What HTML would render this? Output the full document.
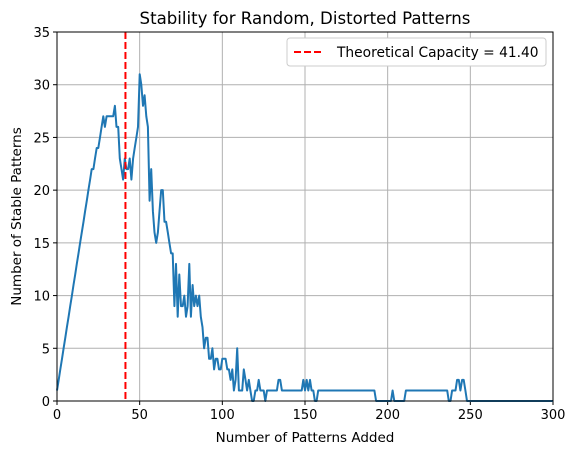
<!DOCTYPE html>
<html><head><meta charset="utf-8"><style>
body{margin:0;background:#fff;font-family:"Liberation Sans","DejaVu Sans",sans-serif}
</style></head><body>
<svg id="chart" width="576" height="455" xmlns="http://www.w3.org/2000/svg" font-family="DejaVu Sans, Liberation Sans, sans-serif"></svg>
<script>
const xValues=[0,1,2,3,4,5,6,7,8,9,10,11,12,13,14,15,16,17,18,19,20,21,22,23,24,25,26,27,28,29,30,31,32,33,34,35,36,37,38,39,40,41,42,43,44,45,46,47,48,49,50,51,52,53,54,55,56,57,58,59,60,61,62,63,64,65,66,67,68,69,70,71,72,73,74,75,76,77,78,79,80,81,82,83,84,85,86,87,88,89,90,91,92,93,94,95,96,97,98,99,100,101,102,103,104,105,106,107,108,109,110,111,112,113,114,115,116,117,118,119,120,121,122,123,124,125,126,127,128,
130,133,134,135,136,137,145,148,149,150,151,152,153,154,155,156,157,158,192,193,202,203,204,210,211,236,237,238,239,240,241,242,243,244,245,246,247,248,300];
const stableCounts=[1,2,3,4,5,6,7,8,9,10,11,12,13,14,15,16,17,18,19,20,21,22,22,23,24,24,25,26,27,26,27,27,27,27,27,28,26,26,23,22,21,23,22,22,23,21,23,24,25,26,31,30,28,29,27,26,19,22,18,16,15,16,18,20,20,17,17,16,15,14,14,9,13,8,12,9,9,10,8,9,13,8,11,9,10,9,10,8,7,5,6,6,4,4,5,3,4,4,3,3,4,4,4,3,3,2,3,1,2,5,1,1,1,3,2,1,2,1,0,0,1,1,2,1,1,1,0,1,1,
1,1,2,2,1,1,1,1,2,1,2,1,2,1,1,0,0,1,1,0,0,1,0,0,1,1,0,0,1,1,1,2,2,1,2,2,1,0,0];
const xTicks=[0,50,100,150,200,250,300];
const yTicks=[0,5,10,15,20,25,30,35];
const capacity=41.4;
const svg=document.getElementById('chart');
const NS='http://www.w3.org/2000/svg';
const L=57,R=553,T=32,B=401;
const xs=v=>L+(v/300)*(R-L);
const ys=v=>B-(v/35)*(B-T);
function mk(tag,attrs,text){const e=document.createElementNS(NS,tag);for(const k in attrs)e.setAttribute(k,attrs[k]);if(text!==undefined)e.textContent=text;svg.appendChild(e);return e;}
xTicks.forEach(t=>{
 const g=mk('line',{x1:xs(t),x2:xs(t),y1:T,y2:B,stroke:'#b0b0b0','stroke-width':1});
 
 const tk=mk('line',{x1:xs(t),x2:xs(t),y1:B,y2:B+4,stroke:'#000'});
 
 const lb=mk('text',{x:xs(t),y:B+18,'text-anchor':'middle','font-size':13},t);
 
});
yTicks.forEach(t=>{
 const g=mk('line',{x1:L,x2:R,y1:ys(t),y2:ys(t),stroke:'#b0b0b0','stroke-width':1});
 
 const tk=mk('line',{x1:L-4,x2:L,y1:ys(t),y2:ys(t),stroke:'#000'});
 
 const lb=mk('text',{x:L-7,y:ys(t)+5,'text-anchor':'end','font-size':13},t);
 
});
const pts=xValues.map((x,i)=>xs(x).toFixed(1)+','+ys(stableCounts[i]).toFixed(1)).join(' ');
const line=mk('polyline',{points:pts,fill:'none',stroke:'#1f77b4','stroke-width':2,'stroke-linejoin':'round'});

const cap=mk('line',{x1:xs(capacity),x2:xs(capacity),y1:T,y2:B,stroke:'#ff0000','stroke-width':2,'stroke-dasharray':'7,3'});

const frame=mk('rect',{x:L,y:T,width:R-L,height:B-T,fill:'none',stroke:'#000','stroke-width':1});

const title=mk('text',{x:(L+R)/2,y:24,'text-anchor':'middle','font-size':16.6},'Stability for Random, Distorted Patterns');

const xt=mk('text',{x:(L+R)/2,y:442,'text-anchor':'middle','font-size':13.5},'Number of Patterns Added');

const yt=mk('text',{x:21,y:(T+B)/2,'text-anchor':'middle','font-size':13.5,transform:'rotate(-90 21 '+((T+B)/2)+')'},'Number of Stable Patterns');

const lg=mk('rect',{x:287,y:38,width:259,height:28,fill:'#fff',stroke:'#ccc',rx:3});

const ll=mk('line',{x1:294,x2:322,y1:52,y2:52,stroke:'#ff0000','stroke-width':2,'stroke-dasharray':'7,3'});

const lt=mk('text',{x:337,y:57,'font-size':13.8},'Theoretical Capacity = 41.40');

</script>
</body></html>
